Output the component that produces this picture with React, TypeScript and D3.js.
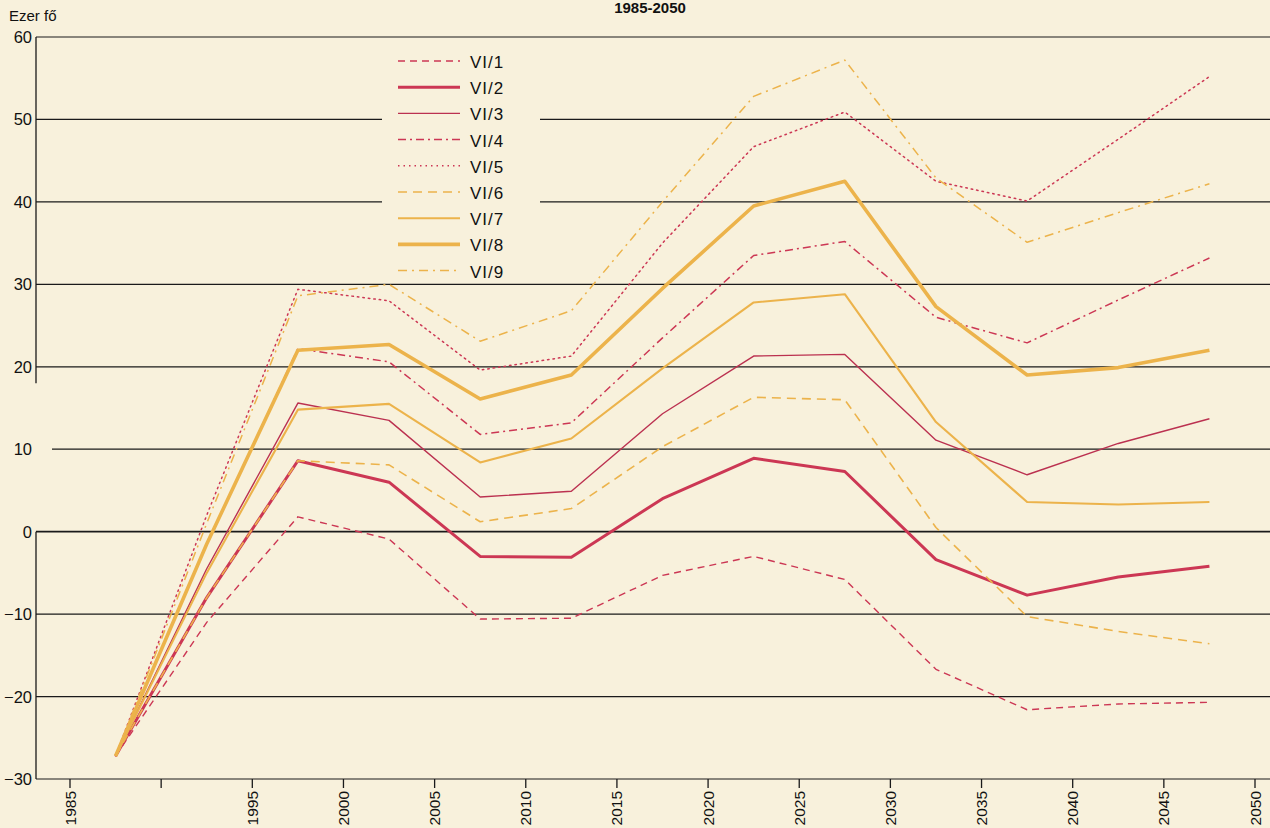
import React from 'react';
import * as d3 from 'd3';

// projection years (mid-points of 5-year periods)
const years = [1987.5, 1992.5, 1997.5, 2002.5, 2007.5, 2012.5, 2017.5, 2022.5, 2027.5, 2032.5, 2037.5, 2042.5, 2047.5];

const seriesNames = ['VI/1', 'VI/2', 'VI/3', 'VI/4', 'VI/5', 'VI/6', 'VI/7', 'VI/8', 'VI/9'];

const vi1 = [-27.2, -11, 1.8, -0.9, -10.6, -10.5, -5.3, -3.0, -5.8, -16.7, -21.6, -20.9, -20.7];
const vi2 = [-27.2, -8, 8.6, 6.0, -3.0, -3.1, 4.0, 8.9, 7.3, -3.4, -7.7, -5.5, -4.2];
const vi3 = [-27.2, -4.5, 15.6, 13.5, 4.2, 4.9, 14.3, 21.3, 21.5, 11.1, 6.9, 10.7, 13.7];
const vi4 = [-27.2, -1.5, 22.2, 20.6, 11.8, 13.2, 23.5, 33.5, 35.2, 26.0, 22.9, 28.1, 33.2];
const vi5 = [-27.2, 2, 29.4, 28.0, 19.6, 21.3, 35.0, 46.7, 50.9, 42.5, 40.1, 47.6, 55.2];
const vi6 = [-27.2, -8, 8.6, 8.1, 1.2, 2.8, 10.3, 16.3, 16.0, 0.5, -10.3, -12.1, -13.6];
const vi7 = [-27.2, -5, 14.8, 15.5, 8.4, 11.3, 19.8, 27.8, 28.8, 13.3, 3.6, 3.3, 3.6];
const vi8 = [-27.2, -1.5, 22.0, 22.7, 16.1, 19.0, 29.5, 39.5, 42.5, 27.3, 19.0, 19.9, 22.0];
const vi9 = [-27.2, 1, 28.6, 30.0, 23.1, 26.8, 40.0, 52.8, 57.2, 42.9, 35.1, 38.7, 42.2];

const seriesValues = [vi1, vi2, vi3, vi4, vi5, vi6, vi7, vi8, vi9];

const xTicks = [1985, 1990, 1995, 2000, 2005, 2010, 2015, 2020, 2025, 2030, 2035, 2040, 2045, 2050];
const yTicks = [-30, -20, -10, 0, 10, 20, 30, 40, 50, 60];

const RED = '#cc3754';
const RED_THIN = '#bb3150';
const YELLOW = '#ecb34b';
const PAPER = '#f8f1dc';

const styles = [
  { color: RED, width: 1.4, dash: '7,5' },
  { color: RED, width: 3, dash: null },
  { color: RED_THIN, width: 1.4, dash: null },
  { color: RED, width: 1.5, dash: '8,4,2,4' },
  { color: RED, width: 1.5, dash: '1.5,4' },
  { color: YELLOW, width: 1.6, dash: '9,6' },
  { color: YELLOW, width: 2.1, dash: null },
  { color: YELLOW, width: 3.6, dash: null },
  { color: YELLOW, width: 1.5, dash: '9,5,2,5' },
];

const W = 1270;
const H = 828;
const FONT = '"Liberation Sans", Arial, sans-serif';

export default function App() {
  const x = d3.scaleLinear().domain([1985, 2050]).range([70, 1255]);
  const y = d3.scaleLinear().domain([-30, 60]).range([779, 37]);
  const axisX = 36;

  const line = d3.line<[number, number]>()
    .x(d => x(d[0]))
    .y(d => y(d[1]));

  const legendX = 398;
  const legendTop = 62;
  const legendStep = 26.2;

  return (
    <svg width={W} height={H} style={{ position: 'absolute', left: 0, top: 0, display: 'block', background: PAPER }}>
      <rect x={0} y={0} width={W} height={H} fill={PAPER} />

      <text x={650} y={13} fontFamily={FONT} fontSize={15} fontWeight="bold" fill="#111" textAnchor="middle">1985-2050</text>
      <text x={9} y={21} fontFamily={FONT} fontSize={15} fill="#111">Ezer fő</text>

      {/* horizontal grid */}
      {yTicks.map(t => (
        <line key={t}
          x1={t === 10 ? 52 : axisX} x2={W}
          y1={y(t)} y2={y(t)}
          stroke="#1a1a1a" strokeWidth={t === 0 ? 1.8 : 1.2} />
      ))}

      {/* y axis (broken between 20 and 0 like the print) */}
      <line x1={axisX} x2={axisX} y1={y(60)} y2={y(18)} stroke="#1a1a1a" strokeWidth={1.3} />
      <line x1={axisX} x2={axisX} y1={y(0)} y2={y(-30)} stroke="#1a1a1a" strokeWidth={1.3} />

      {yTicks.map(t => (
        <text key={t} x={32} y={y(t) + 6} fontFamily={FONT} fontSize={16.5} fill="#111" textAnchor="end">
          {t < 0 ? `\u2212${Math.abs(t)}` : t}
        </text>
      ))}

      {/* x axis ticks and labels */}
      {xTicks.map(t => (
        <g key={t}>
          <line x1={x(t)} x2={x(t)} y1={y(-30)} y2={y(-30) + 9} stroke="#1a1a1a" strokeWidth={1.3} />
          {t !== 1990 && (
            <text transform={`translate(${x(t) + 5.5},${y(-30) + 12}) rotate(-90)`}
              fontFamily={FONT} fontSize={15.5} fill="#111" textAnchor="end">{t}</text>
          )}
        </g>
      ))}

      {/* legend box hides grid lines behind it */}
      <rect x={382} y={46} width={158} height={236} fill={PAPER} />
      {seriesNames.map((name, i) => {
        const s = styles[i];
        const ly = legendTop + i * legendStep;
        return (
          <g key={name}>
            <line x1={legendX} x2={legendX + 62} y1={ly - 1} y2={ly - 1}
              stroke={s.color} strokeWidth={s.width} strokeDasharray={s.dash || undefined} />
            <text x={legendX + 72} y={ly + 6} fontFamily={FONT} fontSize={17} fill="#111" letterSpacing={1}>{name}</text>
          </g>
        );
      })}

      {/* series */}
      {seriesValues.map((vals, i) => {
        const s = styles[i];
        const pts = years.map((yr, j) => [yr, vals[j]] as [number, number]);
        return (
          <path key={seriesNames[i]} d={line(pts) || ''} fill="none"
            stroke={s.color} strokeWidth={s.width} strokeDasharray={s.dash || undefined}
            strokeLinejoin="round" strokeLinecap={s.dash === '1.5,4' ? 'round' : 'butt'} />
        );
      })}
    </svg>
  );
}
